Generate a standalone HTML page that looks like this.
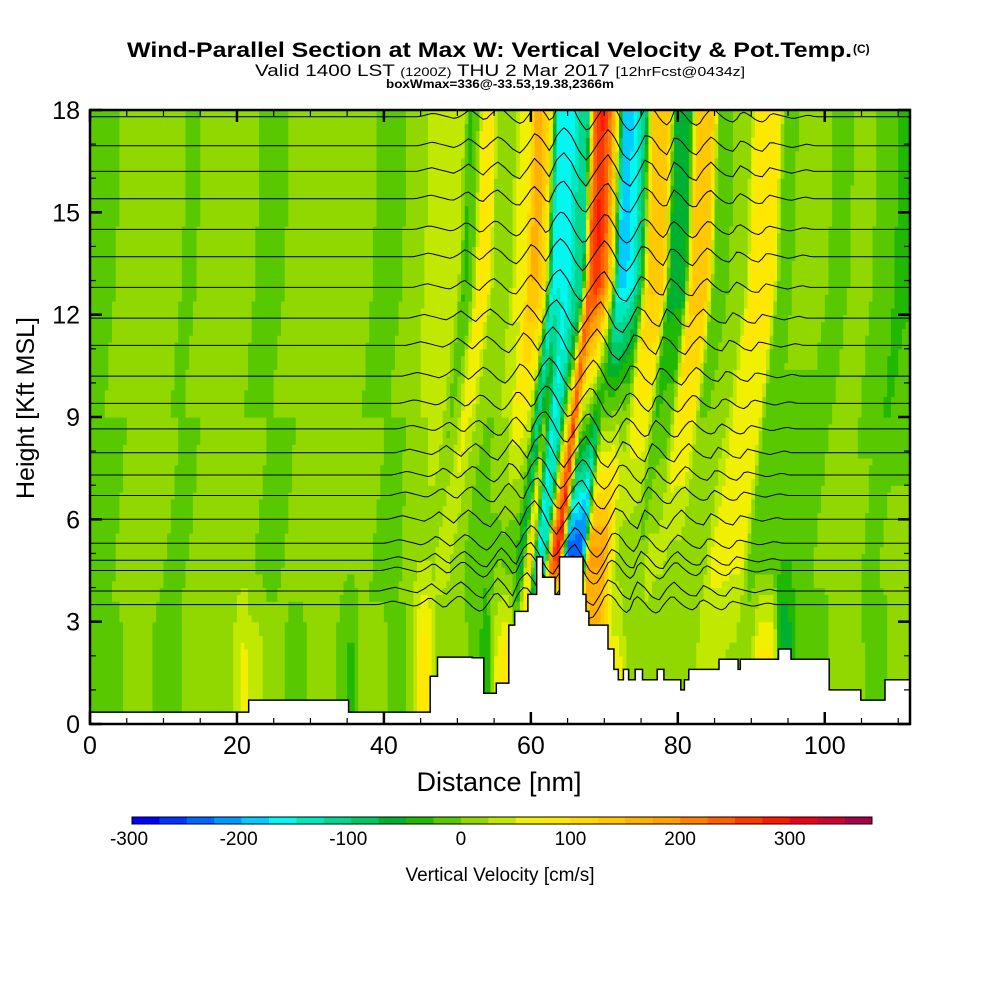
<!DOCTYPE html>
<html><head><meta charset="utf-8"><style>
html,body{margin:0;padding:0;background:#fff;}
svg{display:block;font-family:"Liberation Sans",Arial,sans-serif;}
</style></head><body>
<svg id="chart" width="1000" height="1000" viewBox="0 0 1000 1000" xmlns="http://www.w3.org/2000/svg">
<rect x="0" y="0" width="1000" height="1000" fill="#fff"/>
<text x="127" y="57" font-size="21" font-weight="bold" textLength="725" lengthAdjust="spacingAndGlyphs">Wind-Parallel Section at Max W: Vertical Velocity &amp; Pot.Temp.</text>
<text x="853" y="53" font-size="12" font-weight="bold">(C)</text>
<text x="255" y="76" font-size="17" textLength="490" lengthAdjust="spacingAndGlyphs">Valid 1400 LST <tspan font-size="12">(1200Z)</tspan> THU 2 Mar 2017 <tspan font-size="13">[12hrFcst@0434z]</tspan></text>
<text x="386" y="88" font-size="11.5" font-weight="bold" textLength="228" lengthAdjust="spacingAndGlyphs">boxWmax=336@-33.53,19.38,2366m</text>
<defs><clipPath id="pc"><rect x="90" y="110" width="820" height="614"/></clipPath></defs>
<g id="field" clip-path="url(#pc)"></g>
<g id="theta" clip-path="url(#pc)"></g>
<g id="terrain" clip-path="url(#pc)"></g>
<g id="axes"></g>
<g id="cbar"></g>
<text transform="translate(34,408) rotate(-90)" text-anchor="middle" font-size="25">Height [Kft MSL]</text>
<text x="499" y="791" text-anchor="middle" font-size="27">Distance [nm]</text>
<text x="500" y="881" text-anchor="middle" font-size="19">Vertical Velocity [cm/s]</text>
</svg>
<script>
// ---- data ----
const W_UP = [-10,-10,-10,-10, 10,10,10,10,10,10,10,10,10, -10,-10, 10,10,10,10,10,10,10,10, -10,-10,-10,-10, 10,10,10,10,10,10,10, 10,10,10,10,10, -10,-10,-10,-10, 10,10,
 10,40,40,40,40,40, -30,-10,90,90,10,10,10,60,60,150,150,90,-160,-160,-160,-120,-120,230,280,230,100,-180,-180,-150,-80,130,130,130,-60,-60,-60,140,140,140,-20,-20,0,0,0,80,80,80,80,-20,-20,
 10,10,10,10,10,-10,-10,-10,20,20,20,-20,-20,-20,-30,-30];
const W_MID = [-10,-10,-10,-10, 10,10,10,10,10,10,10, -10,-10,-10, 10,10,10,10,10,10,10,10,10, -10,-10,-10,-10, 10,10,10,10,10,10,10, 10,10,10,10,10, -10,-10,-10,-10, 10,10,
 20,20,20,40,40,0,0,-10,-10,-10,-10,-10,-20,-20,-80,150,-150,-150,250,300,-250,-250,-250,180,180,180,80,10,10,0,0,30,30,30,20,20,20,20,20,20,60,60,60,60,60,-20,-20,-20,
 -20,-20,-20,-20,-20,-20,10,10,10,10,10,10,10,-20,-20,10,10,10,10];
const W_LOW = [-10,-10,-10,-10,-10, 10,10,10,10, -10,-10,-10,-10, 10,10,10,10,10,10,10, 40,60,40,40, 10,10,10, -10,-10,-10, 10,10,10,10, -10,-30,-30, 10,10,10,10, -10,-10,-10, 30,90,90,10,0,0,
 20,10,-10,-20,-60,40,80,80,20,20,20,20,20,20,20,20,20,20,150,150,150,60,60,20,20,20,20,10,10,10,10,10,10,30,30,30,30,20,20,20,20,80,80,80,-80,-80,
 -20,-20,-20,-20,-20,10,10,10,10,10,-20,-20,-20,10,10,10];
const THETA_DISP = [0,0,0,0,0,0,0,0,0,0,0,0,0,0,0,0,0,0,0,0,0,0,0,0,0,0,0,0,0,0,0,0,0,0,0,0,0,0,0,0,0,0,0,0,0,
 0.1,0.2,0.1,0,-0.1,0.1,0.4,0.1,-0.2,0.2,0.5,0.2,-0.2,-0.4,0.1,0.7,0.3,-0.3,0.6,1.0,0.5,-0.3,-0.8,-0.2,0.4,0.9,0.3,-0.5,-0.8,-0.2,0.6,0.4,-0.2,-0.5,0.5,0.2,-0.3,-0.5,0.1,0.5,0.1,-0.2,-0.3,0.3,0.1,-0.2,-0.3,0.2,0.1,
 0,-0.1,0,0.1,0,0,0,0,0,0,0,0,0,0,0,0,0,0];
const THETA_LEVELS = [17.8,16.95,16.2,15.4,14.5,13.7,12.8,11.9,11.1,10.2,9.4,8.65,7.95,7.3,6.7,6.0,5.3,4.8,4.5,3.9,3.5];
const TERR_X = [0,21.6,35.2,46.3,47.3,49.3,52.0,53.6,55.3,57.0,57.8,59.6,60.8,61.3,61.6,63.3,63.9,64.4,65.3,67.1,67.5,67.9,70.5,71.3,71.9,72.6,73.3,74.2,75.2,77.2,78.1,80.4,80.9,81.2,81.5,85.6,85.7,88.2,88.5,90.2,93.7,95.4,100.6,104.9,108.2];
const TERR_H = [0.35,0.7,0.35,1.4,1.96,1.96,1.94,0.9,1.2,2.9,3.3,3.8,4.9,4.9,4.3,3.8,4.9,4.9,4.9,3.8,3.3,2.9,2.2,1.6,1.3,1.6,1.3,1.6,1.3,1.6,1.3,1.0,1.3,1.3,1.6,1.9,1.9,1.6,1.9,1.9,2.2,1.9,1.0,0.7,1.3];
const CB_COLORS = ['#0000ff','#0033ff','#0066ff','#0099ff','#00ccff','#00f8f0','#00e8c0','#00d890','#00c860','#00b030','#20b800','#58c800','#90d800','#c0e800','#f0f000','#ffe800','#ffd800','#ffc800','#ffb000','#ffa000','#ff8000','#ff6000','#ff3800','#ff1800','#f00018','#d00030','#a80048'];
const CB_TICKS = [-300,-200,-100,0,100,200,300];
const Y_TICKS = [0,3,6,9,12,15,18];
const X_TICKS = [0,20,40,60,80,100];
// ---- scales ----
const XMAX=111.6, HMAX=18;
const sx = v => 90 + v/XMAX*820;
const sy = h => 724 - h/HMAX*614;
const NS='http://www.w3.org/2000/svg';
function mk(tag, attrs, parent){const e=document.createElementNS(NS,tag);for(const k in attrs)e.setAttribute(k,attrs[k]);parent.appendChild(e);return e;}
function sample(a,x){if(x<=0)return a[0];if(x>=a.length-1)return a[a.length-1];const i=Math.floor(x),f=x-i;return a[i]*(1-f)+a[i+1]*f;}
const TILT=0.5, TILT_TOP=0.15;
function shiftFor(h){ // x-shift (nm) relative to 13 kft
  return h>=13 ? TILT_TOP*(h-13) : TILT*(h-13);
}
function wAt(x,h){
  const up=sample(W_UP,x-shiftFor(h)), mid=sample(W_MID,x-(shiftFor(h)-shiftFor(5.1))), low=sample(W_LOW,x);
  if(h>=13)return up;
  if(h>=5.1){const f=(h-5.1)/7.9;return mid*(1-f)+up*f;}
  if(h>=2){const f=(h-2)/3.1;return low*(1-f)+mid*f;}
  return low;
}
function colorFor(w){let k=Math.floor((w+300)/25);k=Math.max(0,Math.min(CB_COLORS.length-1,k));return CB_COLORS[k];}
// ---- field ----
const field=document.getElementById('field');
const DX=0.5, DH=0.2;
for(let x=0;x<XMAX;x+=DX){
  let runStart=0, runCol=null;
  for(let h=0;h<=HMAX+DH;h+=DH){
    const c = h>HMAX? null : colorFor(wAt(x+DX/2,h+DH/2));
    if(c!==runCol){
      if(runCol!==null){
        const r=mk('rect',{x:sx(x).toFixed(2),y:sy(h).toFixed(2),width:(sx(x+DX)-sx(x)+0.6).toFixed(2),height:(sy(runStart)-sy(h)+0.6).toFixed(2),fill:runCol},field);
        
        
      }
      runStart=h; runCol=c;
    }
  }
}
// ---- theta contours ----
const theta=document.getElementById('theta');
const AMP=0.55;
THETA_LEVELS.forEach(h0=>{
  let d='';
  for(let x=0;x<=XMAX;x+=0.5){
    const h=h0+AMP*sample(THETA_DISP,x-shiftFor(h0));
    d+=(x===0?'M':'L')+sx(x).toFixed(1)+','+sy(h).toFixed(1);
  }
  const p=mk('path',{d:d,fill:'none',stroke:'#000','stroke-width':1},theta);
  
  
});
// ---- terrain ----
const terr=document.getElementById('terrain');
let td='M'+sx(0)+','+sy(0);
for(let i=0;i<TERR_X.length;i++){
  const xe = i+1<TERR_X.length?TERR_X[i+1]:XMAX;
  td+='L'+sx(TERR_X[i]).toFixed(1)+','+sy(TERR_H[i]).toFixed(1)+'L'+sx(xe).toFixed(1)+','+sy(TERR_H[i]).toFixed(1);
}
td+='L'+sx(XMAX)+','+sy(0)+'Z';
const tp=mk('path',{d:td,fill:'#fff',stroke:'#000','stroke-width':1.5},terr);


// ---- axes ----
const ax=document.getElementById('axes');
const frame=mk('rect',{x:90,y:110,width:820,height:614,fill:'none',stroke:'#000','stroke-width':2.5},ax);


for(let h=0;h<=18;h++){
  const L = h%3===0?12:6;
  mk('line',{x1:90,x2:90+L,y1:sy(h),y2:sy(h),stroke:'#000','stroke-width':h%3===0?2.5:1.2},ax);
  mk('line',{x1:910,x2:910-L,y1:sy(h),y2:sy(h),stroke:'#000','stroke-width':h%3===0?2.5:1.2},ax);
}
for(let x=0;x<=110;x+=5){
  const L = x%20===0?12:6;
  mk('line',{x1:sx(x),x2:sx(x),y1:724,y2:724-L,stroke:'#000','stroke-width':x%20===0?2.5:1.2},ax);
  mk('line',{x1:sx(x),x2:sx(x),y1:110,y2:110+L,stroke:'#000','stroke-width':x%20===0?2.5:1.2},ax);
}
Y_TICKS.forEach(v=>{
  const t=mk('text',{x:80,y:sy(v)+9,'text-anchor':'end','font-size':25},ax);t.textContent=v;
  
  
});
X_TICKS.forEach(v=>{
  const t=mk('text',{x:sx(v),y:754,'text-anchor':'middle','font-size':25},ax);t.textContent=v;
  
  
});
// ---- colorbar ----
const cb=document.getElementById('cbar');
const cbX0=132, cbW=740/CB_COLORS.length;
CB_COLORS.forEach((c,i)=>{
  const r=mk('rect',{x:(cbX0+i*cbW).toFixed(2),y:817,width:(cbW+0.3).toFixed(2),height:7,fill:c},cb);
  
  
});
mk('rect',{x:cbX0,y:817,width:740,height:7,fill:'none',stroke:'#000','stroke-width':1},cb);
CB_TICKS.forEach(v=>{
  const t=mk('text',{x:cbX0+(v+300)/25*cbW+(v<0?-3:0),y:845,'text-anchor':'middle','font-size':19},cb);t.textContent=v;
  
  
});
</script>
</body></html>
